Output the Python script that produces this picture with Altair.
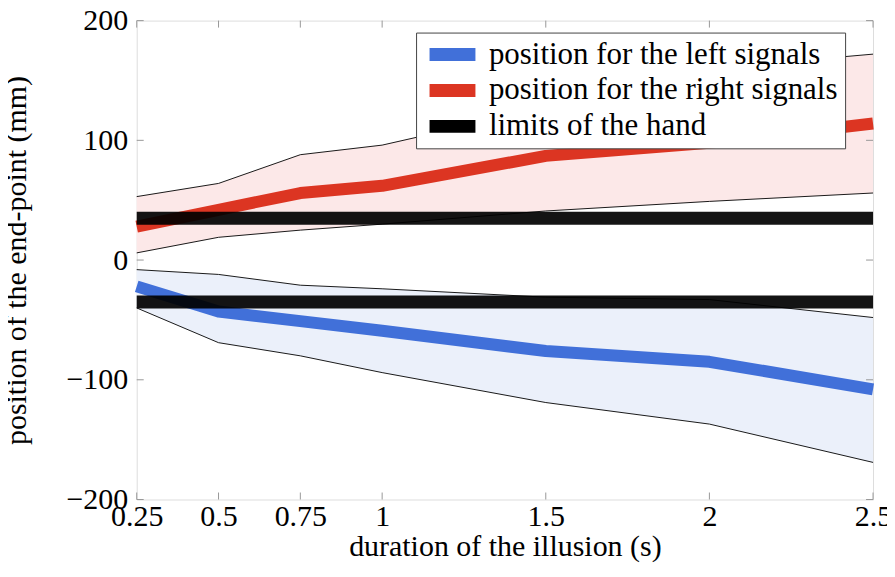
import altair as alt
import pandas as pd

# ---- data ----
durations = [0.25, 0.5, 0.75, 1, 1.5, 2, 2.5]
left_mean = [-22, -43, -51, -59, -76, -85, -108]
left_upper = [-8, -12, -21, -24, -31, -33, -48]
left_lower = [-40, -69, -80, -94, -119, -137, -169]
right_mean = [28, 42, 56, 62, 87, 98, 114]
right_upper = [53, 64, 88, 96, 127, 160, 172]
right_lower = [6, 19, 25, 30, 41, 49, 56]
hand_limits = [35, -35]
series_names = ["position for the left signals", "position for the right signals", "limits of the hand"]
x_ticks = [0.25, 0.5, 0.75, 1, 1.5, 2, 2.5]
y_ticks = [-200, -100, 0, 100, 200]

W, H = 738, 480
FONT = "Liberation Serif"
FS = 30

xs = alt.Scale(domain=[0.25, 2.5], nice=False, zero=False)
ys = alt.Scale(domain=[-200, 200], nice=False, zero=False)

band_df = pd.DataFrame({
    "x": durations * 2,
    "upper": left_upper + right_upper,
    "lower": left_lower + right_lower,
    "side": ["left"] * len(durations) + ["right"] * len(durations),
})
mean_df = pd.DataFrame({
    "x": durations * 2,
    "y": left_mean + right_mean,
    "series": [series_names[0]] * len(durations) + [series_names[1]] * len(durations),
})
lim_rows = []
for i, v in enumerate(hand_limits):
    for xv in (durations[0], durations[-1]):
        lim_rows.append({"x": xv, "y": v, "series": series_names[2], "k": i})
lim_df = pd.DataFrame(lim_rows)

color_scale = alt.Scale(domain=series_names, range=["#4170d9", "#dc3522", "#000000"])

X = alt.X("x:Q", scale=xs, title="duration of the illusion (s)",
          axis=alt.Axis(values=x_ticks, format="~g", grid=False, domain=False, ticks=False, tickSize=0,
                        labelFont=FONT, labelFontSize=FS, labelColor="black", labelPadding=2,
                        labelOverlap=False, labelFlush=False, labelBound=False,
                        titleFont=FONT, titleFontSize=FS, titleFontWeight="normal", titleColor="black",
                        titleY=56, titleBaseline="alphabetic"))
Y_AX = alt.Axis(values=y_ticks, format="d", grid=False, domain=False, ticks=False, tickSize=0,
                labelFont=FONT, labelFontSize=FS, labelColor="black", labelPadding=9,
                labelOverlap=False, labelFlush=False, labelBound=False,
                titleFont=FONT, titleFontSize=FS, titleFontWeight="normal", titleColor="black",
                titlePadding=35)

base = alt.Chart(band_df)

left_band = base.transform_filter(alt.datum.side == "left").mark_area(color="#ebf0fa", opacity=1).encode(
    x=X,
    y=alt.Y("upper:Q", scale=ys, axis=Y_AX, title="position of the end-point (mm)"),
    y2="lower:Q",
)
right_band = base.transform_filter(alt.datum.side == "right").mark_area(color="#fce8e8", opacity=1).encode(
    x=alt.X("x:Q", scale=xs), y=alt.Y("upper:Q", scale=ys), y2="lower:Q"
)
edges = []
for fld in ("upper", "lower"):
    edges.append(
        base.mark_line(color="black", strokeWidth=0.9).encode(
            x=alt.X("x:Q", scale=xs), y=alt.Y(f"{fld}:Q", scale=ys), detail="side:N"
        )
    )

legend = alt.Legend(orient="none", legendX=280, legendY=12, title=None,
                    symbolType="stroke", symbolSize=2116, symbolStrokeWidth=13, symbolOpacity=1,
                    labelFont=FONT, labelFontSize=31, labelColor="black", labelOffset=7,
                    clipHeight=30, rowPadding=5, padding=7, strokeColor="#444", fillColor="white",
                    labelLimit=600)

means = alt.Chart(mean_df).mark_line(strokeWidth=12, strokeJoin="round").encode(
    x=alt.X("x:Q", scale=xs), y=alt.Y("y:Q", scale=ys),
    color=alt.Color("series:N", scale=color_scale, legend=legend),
)
limits = alt.Chart(lim_df).mark_line(strokeWidth=13, opacity=0.92, strokeJoin="round").encode(
    x=alt.X("x:Q", scale=xs), y=alt.Y("y:Q", scale=ys),
    color=alt.Color("series:N", scale=color_scale, legend=legend),
    detail="k:N",
)

ytick_df = pd.DataFrame({"v": y_ticks})
xtick_df = pd.DataFrame({"v": x_ticks})
tick_color = "#999999"
yt_left = alt.Chart(ytick_df).mark_rule(color=tick_color, strokeWidth=1).encode(
    y=alt.Y("v:Q", scale=ys), x=alt.value(0), x2=alt.value(7))
yt_right = alt.Chart(ytick_df).mark_rule(color=tick_color, strokeWidth=1).encode(
    y=alt.Y("v:Q", scale=ys), x=alt.value(W - 7), x2=alt.value(W))
xt_bot = alt.Chart(xtick_df).mark_rule(color=tick_color, strokeWidth=1).encode(
    x=alt.X("v:Q", scale=xs), y=alt.value(H - 7), y2=alt.value(H))
xt_top = alt.Chart(xtick_df).mark_rule(color=tick_color, strokeWidth=1).encode(
    x=alt.X("v:Q", scale=xs), y=alt.value(0), y2=alt.value(7))

chart = alt.layer(
    left_band, right_band, *edges, means, limits, yt_left, yt_right, xt_bot, xt_top
).properties(
    width=W, height=H,
    autosize=alt.AutoSizeParams(type="none"),
    padding={"left": 129, "top": 12, "right": 14, "bottom": 65},
).configure_view(stroke="black", strokeWidth=1.2).configure(background="white")

chart.save("out.html", embed_options={"renderer": "svg", "actions": False})
